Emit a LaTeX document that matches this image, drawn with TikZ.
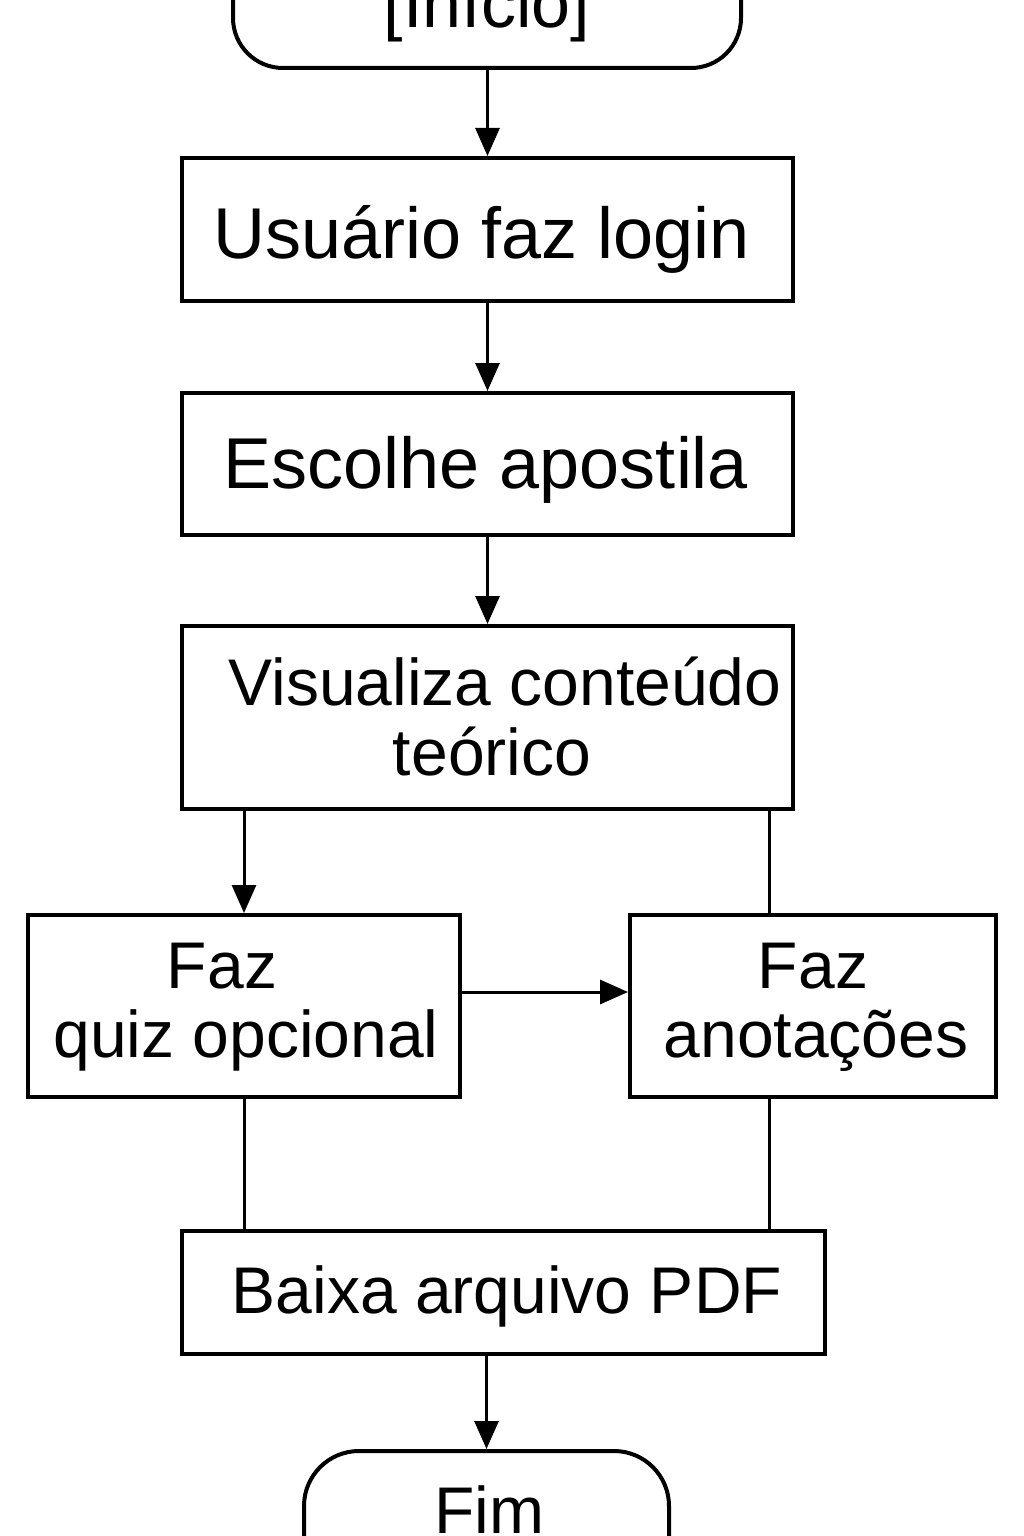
\documentclass[tikz,border=0pt]{standalone}
\usepackage{fontspec}
\setmainfont{Liberation Sans}
\usetikzlibrary{arrows.meta}
\begin{document}
\begin{tikzpicture}[x=1pt,y=-1pt,
  box/.style={draw, line width=4pt, inner sep=0pt},
  txt/.style={anchor=base, inner sep=0pt, font=\fontsize{66}{70}\selectfont},
  big/.style={font=\fontsize{72}{76}\selectfont},
  conn/.style={line width=3pt},
  arr/.style={conn, -{Triangle[length=28pt,width=24pt]}}]
\useasboundingbox (0,0) rectangle (1024,1536);
\fill[white] (0,0) rectangle (1024,1536);
\clip (0,0) rectangle (1024,1536);
% start / end terminals
\node[box, rounded corners=50pt, minimum width=508pt, minimum height=128pt] (st) at (487,4) {};
\node[txt, font=\fontsize{70}{74}\selectfont] (tst) at (487,28) {[Início]};
\node[box, rounded corners=55pt, minimum width=365pt, minimum height=160pt] (fim) at (486.5,1531) {};
\node[txt] (tfim) at (489,1533) {Fim};
% process boxes
\node[box, minimum width=611pt, minimum height=143pt] (b1) at (487.5,229.5) {};
\node[txt,big] (t1) at (482,258) {Usuário faz login};
\node[box, minimum width=611pt, minimum height=142pt] (b2) at (487.5,464) {};
\node[txt,big] (t2) at (486,488) {Escolhe apostila};
\node[box, minimum width=611pt, minimum height=183pt] (b3) at (487.5,717.5) {};
\node[txt] (t3a) at (505,705) {Visualiza conteúdo};
\node[txt] (t3b) at (492,775) {teórico};
\node[box, minimum width=432pt, minimum height=182pt] (b4) at (244,1006) {};
\node[txt] (t4a) at (222,988) {Faz};
\node[txt] (t4b) at (246,1057) {quiz opcional};
\node[box, minimum width=366pt, minimum height=182pt] (b5) at (813,1006) {};
\node[txt] (t5a) at (813,988) {Faz};
\node[txt] (t5b) at (816,1057) {anotações};
\node[box, minimum width=643pt, minimum height=123pt] (b6) at (503.5,1292.5) {};
\node[txt] (t6) at (507,1313) {Baixa arquivo PDF};
% helper coordinates
\coordinate (rx) at (769,0);
\coordinate (ay) at (0,992);
% connectors
\draw[arr] (st.south -| b1.north) -- (b1.north);
\draw[arr] (b1.south) -- (b2.north);
\draw[arr] (b2.south) -- (b3.north);
\draw[arr] (b3.south -| b4.north) -- (b4.north);
\draw[conn] (b3.south -| rx) -- (b5.north -| rx);
\draw[arr] (b4.east |- ay) -- (b5.west |- ay);
\draw[conn] (b4.south) -- (b6.north -| b4.south);
\draw[conn] (b5.south -| rx) -- (b6.north -| rx);
\draw[arr] (b6.south -| fim.north) -- (fim.north);
\end{tikzpicture}
\end{document}
